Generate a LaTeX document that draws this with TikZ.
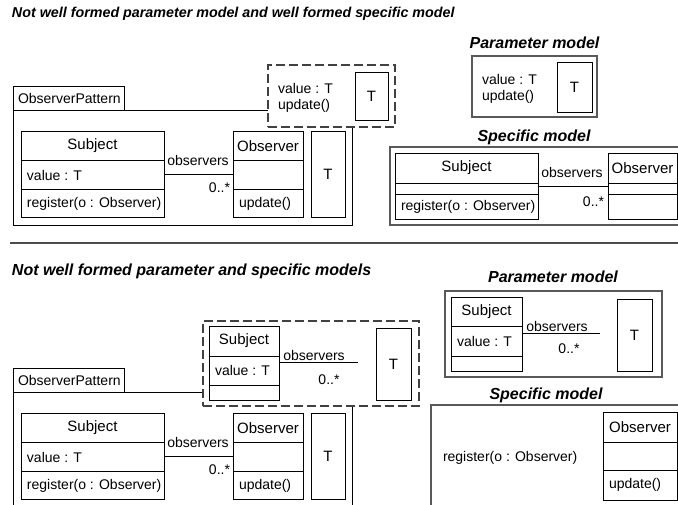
\documentclass[tikz,border=0pt]{standalone}
\usepackage{fontspec}
\setmainfont{Liberation Sans}
\begin{document}
\begin{tikzpicture}[x=1pt,y=-1pt,
  every node/.style={inner sep=0pt,outer sep=0pt},
  cls/.style={draw=black,line width=1pt,anchor=north west,fill=white},
  pkg/.style={draw=black,line width=1pt,anchor=north west},
  modelbox/.style={draw=black!65,line width=1.3pt,anchor=north west},
  dbox/.style={draw=black!75,line width=2pt,dash pattern=on 9pt off 4pt,anchor=north west,fill=white},
  lbl/.style={font=\fontsize{14}{16}\selectfont},
  cname/.style={font=\fontsize{15}{17}\selectfont},
  ttl/.style={font=\fontsize{16}{19}\selectfont\bfseries\itshape},
  ttlsmall/.style={font=\fontsize{14.3}{17}\selectfont\bfseries\itshape},
  assoc/.style={draw=black,line width=1pt},
  divl/.style={draw=black,line width=1pt}]
\useasboundingbox (0,0) rectangle (678,504);
\clip (0,0) rectangle (678,504);

% ================= TOP =================
\node[ttlsmall,anchor=west] (t1) at (12,14) {Not well formed parameter model and well formed specific model};

% package
\node[pkg,minimum width=111pt,minimum height=24pt] (tab1) at (13,86) {};
\node[lbl,anchor=west] (tab1t) at (18,98) {ObserverPattern};
\node[pkg,minimum width=339pt,minimum height=115pt] (pk1) at (13,110) {};

% Subject
\node[cls,minimum width=143pt,minimum height=86pt] (s1) at (21,131) {};
\draw[divl] (21,160) -- (164,160);
\draw[divl] (21,189) -- (164,189);
\node[cname] (s1n) at (92.5,146) {Subject};
\node[lbl,anchor=west] (s1a) at (27,175) {value : T};
\node[lbl,anchor=west] (s1o) at (27,203.5) {register(o : Observer)};
% Observer
\node[cls,minimum width=70pt,minimum height=86pt] (o1) at (233,131) {};
\draw[divl] (233,160) -- (303,160);
\draw[divl] (233,189) -- (303,189);
\node[cname] (o1n) at (268,146) {Observer};
\node[lbl,anchor=west] (o1o) at (239,203.5) {update()};
% T
\node[cls,minimum width=34pt,minimum height=86pt] (T1) at (311,131) {};
\node[cname] (T1t) at (328,174) {T};
% association
\draw[assoc] (s1.east) -- (o1.west);
\node[lbl] (r1) at (198,160) {observers};
\node[lbl,anchor=east] (m1) at (230,188) {0..*};

% dashed parameter box overlapping package
\node[dbox,minimum width=127pt,minimum height=62pt] (d1) at (268,65) {};
\node[lbl,anchor=west] (d1a) at (278,88) {value : T};
\node[lbl,anchor=west] (d1o) at (278,106) {update()};
\node[cls,minimum width=33pt,minimum height=48pt] (dT1) at (355,72) {};
\node[cname] (dT1t) at (371.5,96) {T};

% Parameter model (top)
\node[ttl] (pm1) at (534.5,43) {Parameter model};
\node[modelbox,minimum width=125pt,minimum height=61pt] (pb1) at (472,56) {};
\node[lbl,anchor=west] (pb1a) at (482,79) {value : T};
\node[lbl,anchor=west] (pb1o) at (482,97) {update()};
\node[cls,minimum width=35pt,minimum height=50pt] (pT1) at (557,62) {};
\node[cname] (pT1t) at (574.5,87) {T};

% Specific model (top)
\node[ttl] (sm1) at (534,137) {Specific model};
\node[modelbox,minimum width=310pt,minimum height=78pt] (sb1) at (390,147) {};
\node[cls,minimum width=143pt,minimum height=66pt] (ss1) at (395,153) {};
\draw[divl] (395,183) -- (538,183);
\draw[divl] (395,194) -- (538,194);
\node[cname] (ss1n) at (466.5,168) {Subject};
\node[lbl,anchor=west] (ss1o) at (401,206.5) {register(o : Observer)};
\node[cls,minimum width=69pt,minimum height=66pt] (so1) at (608,153) {};
\draw[divl] (608,183) -- (677,183);
\draw[divl] (608,194) -- (677,194);
\node[cname] (so1n) at (642.5,168) {Observer};
\coordinate (ss1e) at (538,186);
\coordinate (so1w) at (608,186);
\draw[assoc] (ss1e) -- (so1w);
\node[lbl] (sr1) at (572,172) {observers};
\node[lbl,anchor=east] (sm1m) at (604,202) {0..*};

% separator
\coordinate (sepL) at (10,243);
\coordinate (sepR) at (678,243);
\draw[black!70,line width=1.5pt] (sepL) -- (sepR);

% ================= BOTTOM =================
\node[ttl,anchor=west] (t2) at (12,271) {Not well formed parameter and specific models};

% package
\node[pkg,minimum width=111pt,minimum height=24pt] (tab2) at (13,368) {};
\node[lbl,anchor=west] (tab2t) at (18,380) {ObserverPattern};
\node[pkg,minimum width=339pt,minimum height=130pt] (pk2) at (13,392) {};

% Subject
\node[cls,minimum width=143pt,minimum height=86pt] (s2) at (21,413) {};
\draw[divl] (21,442) -- (164,442);
\draw[divl] (21,471) -- (164,471);
\node[cname] (s2n) at (92.5,428) {Subject};
\node[lbl,anchor=west] (s2a) at (27,457) {value : T};
\node[lbl,anchor=west] (s2o) at (27,485.5) {register(o : Observer)};
% Observer
\node[cls,minimum width=70pt,minimum height=86pt] (o2) at (233,413) {};
\draw[divl] (233,442) -- (303,442);
\draw[divl] (233,471) -- (303,471);
\node[cname] (o2n) at (268,428) {Observer};
\node[lbl,anchor=west] (o2o) at (239,485.5) {update()};
% T
\node[cls,minimum width=34pt,minimum height=86pt] (T2) at (311,413) {};
\node[cname] (T2t) at (328,456) {T};
% association
\draw[assoc] (s2.east) -- (o2.west);
\node[lbl] (r2) at (198,442) {observers};
\node[lbl,anchor=east] (m2) at (230,470) {0..*};

% dashed parameter box (bottom)
\node[dbox,minimum width=216pt,minimum height=85pt] (d2) at (203,321) {};
\node[cls,minimum width=70pt,minimum height=74pt] (ds2) at (209,326) {};
\draw[divl] (209,356) -- (279,356);
\draw[divl] (209,385) -- (279,385);
\node[cname] (ds2n) at (244,341) {Subject};
\node[lbl,anchor=west] (ds2a) at (215,370) {value : T};
\coordinate (ds2e) at (279,362);
\coordinate (fe2) at (358,362);
\draw[assoc] (ds2e) -- (fe2);
\node[lbl] (dr2) at (314,355) {observers};
\node[lbl] (dm2) at (329,380) {0..*};
\node[cls,minimum width=35pt,minimum height=72pt] (dT2) at (376,328) {};
\node[cname] (dT2t) at (393.5,364) {T};

% Parameter model (bottom)
\node[ttl] (pm2) at (553,277) {Parameter model};
\node[modelbox,minimum width=217pt,minimum height=86pt] (pb2) at (445,291) {};
\node[cls,minimum width=71pt,minimum height=74pt] (ps2) at (451,297) {};
\draw[divl] (451,326) -- (522,326);
\draw[divl] (451,356) -- (522,356);
\node[cname] (ps2n) at (486.5,312) {Subject};
\node[lbl,anchor=west] (ps2a) at (457,341) {value : T};
\coordinate (ps2e) at (522,333);
\coordinate (fe3) at (600,333);
\draw[assoc] (ps2e) -- (fe3);
\node[lbl] (pr2) at (557,326) {observers};
\node[lbl] (pm2m) at (569,349) {0..*};
\node[cls,minimum width=35pt,minimum height=72pt] (pT2) at (617,299) {};
\node[cname] (pT2t) at (634.5,335) {T};

% Specific model (bottom)
\node[ttl] (sm2) at (546,395) {Specific model};
\node[modelbox,minimum width=270pt,minimum height=120pt] (sb2) at (431,405) {};
\node[lbl,anchor=west] (sb2r) at (443,458) {register(o : Observer)};
\node[cls,minimum width=74pt,minimum height=88pt] (so2) at (603,412) {};
\draw[divl] (603,442) -- (677,442);
\draw[divl] (603,470) -- (677,470);
\node[cname] (so2n) at (640,427) {Observer};
\node[lbl,anchor=west] (so2o) at (609,485) {update()};
\end{tikzpicture}
\end{document}
